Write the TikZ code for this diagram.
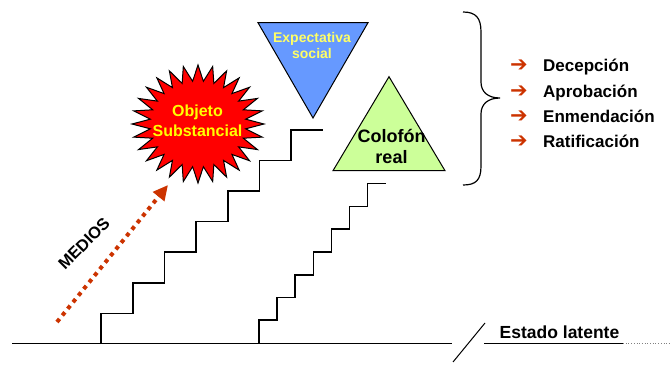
\documentclass[tikz,border=0pt]{standalone}
\usepackage{fontspec}
\setmainfont{Liberation Sans}
\newfontfamily\flechas{DejaVu Sans}
\usetikzlibrary{arrows.meta}
\definecolor{rojizo}{RGB}{204,51,0}
\definecolor{azulexp}{RGB}{102,153,255}
\definecolor{verdecol}{RGB}{204,255,153}
\definecolor{amarillo}{RGB}{255,255,0}
\definecolor{amarillopal}{RGB}{255,255,102}

\begin{document}
\begin{tikzpicture}[x=1pt,y=-1pt,
    escalon/.style={line width=1.6pt},
    suelo/.style={line width=1pt},
    item/.style={font=\bfseries\fontsize{17}{19}\selectfont, anchor=base west, inner sep=0pt},
    vineta/.style={font=\flechas\bfseries\fontsize{21}{23}\selectfont, text=rojizo, anchor=base, inner sep=0pt}]
	\useasboundingbox (0,0) rectangle (671,364);
	\pgfmathsetmacro{\PasoAncho}{31.7}
	\pgfmathsetmacro{\PasoAlto}{30.6}
	\pgfmathsetmacro{\PasoAnchoB}{18.1}
	\pgfmathsetmacro{\PasoAltoB}{22.76}
	% SUELO
	\draw[suelo] (12,343.5) -- (452,343.5);
	\draw[suelo] (453,362) -- (485,323);
	\draw[suelo] (484,343.5) -- (623,343.5);
	\draw[gray, line width=0.7pt, dotted] (623,343.5) -- (671,343.5);
	\node[font=\bfseries\fontsize{17.5}{19}\selectfont, anchor=base, inner sep=0pt] (latente) at (559.5,338.5) {Estado latente};
	% ESCALERAS
	\draw[escalon] (101,344) \foreach \k in {1,...,7} { -- ++(0,-\PasoAlto) -- ++(\PasoAncho,0) };
	\draw[escalon] (259,343) \foreach \k in {1,...,7} { -- ++(0,-\PasoAltoB) -- ++(\PasoAnchoB,0) };
	% OBJETO
	\filldraw[fill=red, draw=black, line width=1pt]
		(198+66,124) \foreach \k in {0,...,27} { -- ({198+66*cos(\k*360/28)},{124+59*sin(\k*360/28)}) -- ({198+48*cos((\k+0.5)*360/28)},{124+43*sin((\k+0.5)*360/28)}) } -- cycle;
	\node[font=\bfseries\fontsize{16}{19.5}\selectfont, text=amarillo, align=center, inner sep=0pt, anchor=base] (objeto) at (197.5,136) {Objeto\\Substancial};
	% EXPECTATIVA
	\filldraw[fill=azulexp, draw=black, line width=1pt] (258,22.7) -- (368,22.7) -- (313,118) -- cycle;
	\node[font=\bfseries\fontsize{14}{15.6}\selectfont, text=amarillopal, align=center, inner sep=0pt, anchor=base] (expectativa) at (312,58.3) {Expectativa\\social};
	% COLOFON
	\filldraw[fill=verdecol, draw=black, line width=1pt] (389,76.7) -- (445,170.7) -- (333,170.7) -- cycle;
	\node[font=\bfseries\fontsize{18}{20.6}\selectfont, align=center, inner sep=0pt, anchor=base] (colofon) at (391.5,163.3) {Colofón\\real};
	% MEDIOS
	\coordinate (medA) at (57,322);
	\coordinate (medB) at (168,185);
	\draw[rojizo, line width=4pt, dash pattern=on 4pt off 4.5pt, -{Triangle[length=15pt,width=14pt]}] (medA) -- (medB);
	\node[font=\bfseries\fontsize{16.5}{18}\selectfont, rotate=45, inner sep=0pt] (medios) at (84,243.5) {MEDIOS};
	% LLAVE
	\draw[line width=1.2pt] (463,12) .. controls (476,12) and (481,18) .. (481,32) -- (481,82)
		.. controls (481,92) and (488,98) .. (500,98)
		.. controls (488,98) and (481,104) .. (481,114) -- (481,166)
		.. controls (481,180) and (476,185) .. (463,185);
	\node[vineta] (v1) at (519,71.7) {➔};
	\node[item] (decepcion) at (543,71.7) {Decepción};
	\node[vineta] (v2) at (519,97.1) {➔};
	\node[item] (aprobacion) at (543,97.1) {Aprobación};
	\node[vineta] (v3) at (519,122.3) {➔};
	\node[item] (enmendacion) at (543,122.3) {Enmendación};
	\node[vineta] (v4) at (519,147.3) {➔};
	\node[item] (ratificacion) at (543,147.3) {Ratificación};
\end{tikzpicture}
\end{document}
